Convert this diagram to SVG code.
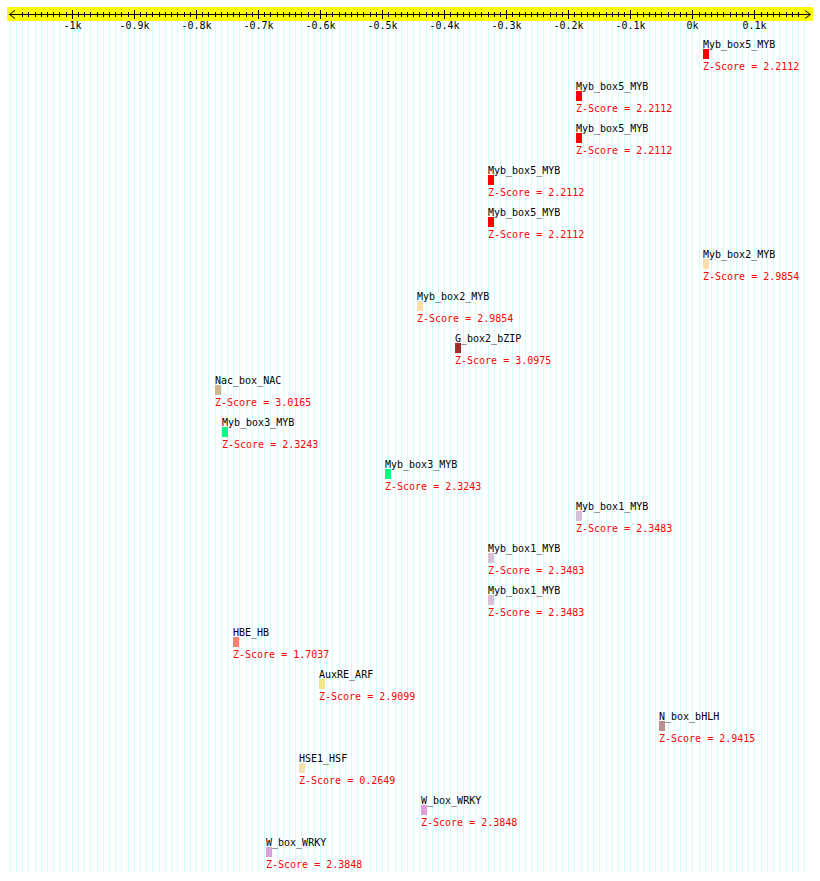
<svg xmlns="http://www.w3.org/2000/svg" width="820" height="881" viewBox="0 0 820 881">
<style>
text{font-family:"DejaVu Sans Mono","Liberation Mono",monospace;font-size:10px}
.nm{fill:#000}
.zs{fill:#ff0000}
.ax{fill:#000;text-anchor:middle}
.grid{stroke:#d0ffff;stroke-width:1;fill:none}
.tick{stroke:#000;stroke-width:1;fill:none}
</style>
<rect x="0" y="0" width="820" height="881" fill="#ffffff"/>
<g id="grid">
<path class="grid" d="M10.5 20V872M16.5 20V872M22.5 20V872M28.5 20V872M35.5 20V872M41.5 20V872M47.5 20V872M53.5 20V872M59.5 20V872M66.5 20V872M72.5 20V872M78.5 20V872M84.5 20V872M90.5 20V872M97.5 20V872M103.5 20V872M109.5 20V872M115.5 20V872M121.5 20V872M128.5 20V872M134.5 20V872M140.5 20V872M146.5 20V872M152.5 20V872M159.5 20V872M165.5 20V872M171.5 20V872M177.5 20V872M184.5 20V872M190.5 20V872M196.5 20V872M202.5 20V872M208.5 20V872M215.5 20V872M221.5 20V872M227.5 20V872M233.5 20V872M239.5 20V872M246.5 20V872M252.5 20V872M258.5 20V872M264.5 20V872M270.5 20V872M277.5 20V872M283.5 20V872M289.5 20V872M295.5 20V872M301.5 20V872M308.5 20V872M314.5 20V872M320.5 20V872M326.5 20V872M332.5 20V872M339.5 20V872M345.5 20V872M351.5 20V872M357.5 20V872M363.5 20V872M370.5 20V872M376.5 20V872M382.5 20V872M388.5 20V872M395.5 20V872M401.5 20V872M407.5 20V872M413.5 20V872M419.5 20V872M426.5 20V872M432.5 20V872M438.5 20V872M444.5 20V872M450.5 20V872M457.5 20V872M463.5 20V872M469.5 20V872M475.5 20V872M481.5 20V872M488.5 20V872M494.5 20V872M500.5 20V872M506.5 20V872M512.5 20V872M519.5 20V872M525.5 20V872M531.5 20V872M537.5 20V872M543.5 20V872M550.5 20V872M556.5 20V872M562.5 20V872M568.5 20V872M574.5 20V872M581.5 20V872M587.5 20V872M593.5 20V872M599.5 20V872M606.5 20V872M612.5 20V872M618.5 20V872M624.5 20V872M630.5 20V872M637.5 20V872M643.5 20V872M649.5 20V872M655.5 20V872M661.5 20V872M668.5 20V872M674.5 20V872M680.5 20V872M686.5 20V872M692.5 20V872M699.5 20V872M705.5 20V872M711.5 20V872M717.5 20V872M723.5 20V872M730.5 20V872M736.5 20V872M742.5 20V872M748.5 20V872M754.5 20V872M761.5 20V872M767.5 20V872M773.5 20V872M779.5 20V872M786.5 20V872M792.5 20V872M798.5 20V872M804.5 20V872"/>
</g>
<g id="axis">
<rect x="7" y="7" width="806" height="14" fill="#ffff00"/>
<path class="tick" d="M9 14.5H811M15 10.5L9.5 14.5L15 18.5M805 10.5L810.5 14.5L805 18.5"/>
<path class="tick" d="M22.5 12V17M28.5 12V17M35.5 12V17M41.5 12V17M47.5 12V17M53.5 12V17M59.5 12V17M66.5 12V17M78.5 12V17M84.5 12V17M90.5 12V17M97.5 12V17M103.5 12V17M109.5 12V17M115.5 12V17M121.5 12V17M128.5 12V17M140.5 12V17M146.5 12V17M152.5 12V17M159.5 12V17M165.5 12V17M171.5 12V17M177.5 12V17M184.5 12V17M190.5 12V17M202.5 12V17M208.5 12V17M215.5 12V17M221.5 12V17M227.5 12V17M233.5 12V17M239.5 12V17M246.5 12V17M252.5 12V17M264.5 12V17M270.5 12V17M277.5 12V17M283.5 12V17M289.5 12V17M295.5 12V17M301.5 12V17M308.5 12V17M314.5 12V17M326.5 12V17M332.5 12V17M339.5 12V17M345.5 12V17M351.5 12V17M357.5 12V17M363.5 12V17M370.5 12V17M376.5 12V17M388.5 12V17M395.5 12V17M401.5 12V17M407.5 12V17M413.5 12V17M419.5 12V17M426.5 12V17M432.5 12V17M438.5 12V17M450.5 12V17M457.5 12V17M463.5 12V17M469.5 12V17M475.5 12V17M481.5 12V17M488.5 12V17M494.5 12V17M500.5 12V17M512.5 12V17M519.5 12V17M525.5 12V17M531.5 12V17M537.5 12V17M543.5 12V17M550.5 12V17M556.5 12V17M562.5 12V17M574.5 12V17M581.5 12V17M587.5 12V17M593.5 12V17M599.5 12V17M606.5 12V17M612.5 12V17M618.5 12V17M624.5 12V17M637.5 12V17M643.5 12V17M649.5 12V17M655.5 12V17M661.5 12V17M668.5 12V17M674.5 12V17M680.5 12V17M686.5 12V17M699.5 12V17M705.5 12V17M711.5 12V17M717.5 12V17M723.5 12V17M730.5 12V17M736.5 12V17M742.5 12V17M748.5 12V17M761.5 12V17M767.5 12V17M773.5 12V17M779.5 12V17M786.5 12V17M792.5 12V17M798.5 12V17"/>
<path class="tick" d="M72.5 10V19M134.5 10V19M196.5 10V19M258.5 10V19M320.5 10V19M382.5 10V19M444.5 10V19M506.5 10V19M568.5 10V19M630.5 10V19M692.5 10V19M754.5 10V19"/>
<text class="ax" x="72.5" y="29">-1k</text>
<text class="ax" x="134.5" y="29">-0.9k</text>
<text class="ax" x="196.5" y="29">-0.8k</text>
<text class="ax" x="258.5" y="29">-0.7k</text>
<text class="ax" x="320.5" y="29">-0.6k</text>
<text class="ax" x="382.5" y="29">-0.5k</text>
<text class="ax" x="444.5" y="29">-0.4k</text>
<text class="ax" x="506.5" y="29">-0.3k</text>
<text class="ax" x="568.5" y="29">-0.2k</text>
<text class="ax" x="630.5" y="29">-0.1k</text>
<text class="ax" x="692.5" y="29">0k</text>
<text class="ax" x="754.5" y="29">0.1k</text>
</g>
<g id="connectors"></g>
<g id="n0"><text class="nm" x="703" y="48">Myb_box5_MYB</text><rect x="703" y="49" width="6" height="10" fill="#ff0000"/><text class="zs" x="703" y="70">Z-Score = 2.2112</text></g>
<g id="n1"><text class="nm" x="576" y="90">Myb_box5_MYB</text><rect x="576" y="91" width="6" height="10" fill="#ff0000"/><text class="zs" x="576" y="112">Z-Score = 2.2112</text></g>
<g id="n2"><text class="nm" x="576" y="132">Myb_box5_MYB</text><rect x="576" y="133" width="6" height="10" fill="#ff0000"/><text class="zs" x="576" y="154">Z-Score = 2.2112</text></g>
<g id="n3"><text class="nm" x="488" y="174">Myb_box5_MYB</text><rect x="488" y="175" width="6" height="10" fill="#ff0000"/><text class="zs" x="488" y="196">Z-Score = 2.2112</text></g>
<g id="n4"><text class="nm" x="488" y="216">Myb_box5_MYB</text><rect x="488" y="217" width="6" height="10" fill="#ff0000"/><text class="zs" x="488" y="238">Z-Score = 2.2112</text></g>
<g id="n5"><text class="nm" x="703" y="258">Myb_box2_MYB</text><rect x="703" y="259" width="6" height="10" fill="#ffdead"/><text class="zs" x="703" y="280">Z-Score = 2.9854</text></g>
<g id="n6"><text class="nm" x="417" y="300">Myb_box2_MYB</text><rect x="417" y="301" width="6" height="10" fill="#ffdead"/><text class="zs" x="417" y="322">Z-Score = 2.9854</text></g>
<g id="n7"><text class="nm" x="455" y="342">G_box2_bZIP</text><rect x="455" y="343" width="6" height="10" fill="#a52a2a"/><text class="zs" x="455" y="364">Z-Score = 3.0975</text></g>
<g id="n8"><text class="nm" x="215" y="384">Nac_box_NAC</text><rect x="215" y="385" width="6" height="10" fill="#d2b48c"/><text class="zs" x="215" y="406">Z-Score = 3.0165</text></g>
<g id="n9"><text class="nm" x="222" y="426">Myb_box3_MYB</text><rect x="222" y="427" width="6" height="10" fill="#00ff7f"/><text class="zs" x="222" y="448">Z-Score = 2.3243</text></g>
<g id="n10"><text class="nm" x="385" y="468">Myb_box3_MYB</text><rect x="385" y="469" width="6" height="10" fill="#00ff7f"/><text class="zs" x="385" y="490">Z-Score = 2.3243</text></g>
<g id="n11"><text class="nm" x="576" y="510">Myb_box1_MYB</text><rect x="576" y="511" width="6" height="10" fill="#d8bfd8"/><text class="zs" x="576" y="532">Z-Score = 2.3483</text></g>
<g id="n12"><text class="nm" x="488" y="552">Myb_box1_MYB</text><rect x="488" y="553" width="6" height="10" fill="#d8bfd8"/><text class="zs" x="488" y="574">Z-Score = 2.3483</text></g>
<g id="n13"><text class="nm" x="488" y="594">Myb_box1_MYB</text><rect x="488" y="595" width="6" height="10" fill="#d8bfd8"/><text class="zs" x="488" y="616">Z-Score = 2.3483</text></g>
<g id="n14"><text class="nm" x="233" y="636">HBE_HB</text><rect x="233" y="637" width="6" height="10" fill="#fa8072"/><text class="zs" x="233" y="658">Z-Score = 1.7037</text></g>
<g id="n15"><text class="nm" x="319" y="678">AuxRE_ARF</text><rect x="319" y="679" width="6" height="10" fill="#f0e68c"/><text class="zs" x="319" y="700">Z-Score = 2.9099</text></g>
<g id="n16"><text class="nm" x="659" y="720">N_box_bHLH</text><rect x="659" y="721" width="6" height="10" fill="#bc8f8f"/><text class="zs" x="659" y="742">Z-Score = 2.9415</text></g>
<g id="n17"><text class="nm" x="299" y="762">HSE1_HSF</text><rect x="299" y="763" width="6" height="10" fill="#f5deb3"/><text class="zs" x="299" y="784">Z-Score = 0.2649</text></g>
<g id="n18"><text class="nm" x="421" y="804">W_box_WRKY</text><rect x="421" y="805" width="6" height="10" fill="#dda0dd"/><text class="zs" x="421" y="826">Z-Score = 2.3848</text></g>
<g id="n19"><text class="nm" x="266" y="846">W_box_WRKY</text><rect x="266" y="847" width="6" height="10" fill="#dda0dd"/><text class="zs" x="266" y="868">Z-Score = 2.3848</text></g>
</svg>
